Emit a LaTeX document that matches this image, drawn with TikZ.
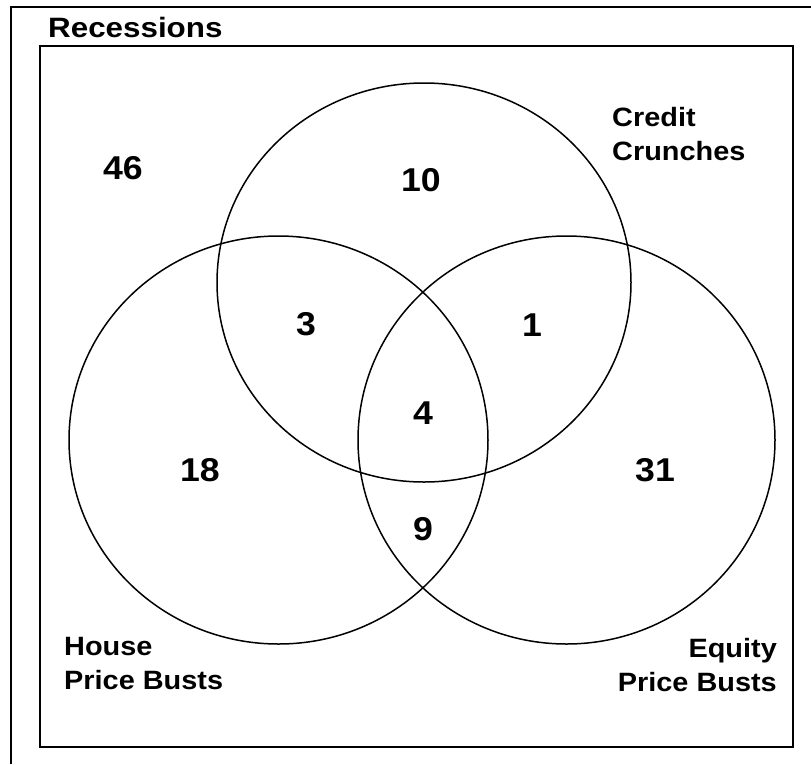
\documentclass[tikz,border=0pt]{standalone}
\usepackage{fontspec}
\setmainfont{Liberation Sans}
\newcommand{\widetxt}[1]{\scalebox{1.08}[1]{#1}}
\newcommand{\widelbl}[1]{\scalebox{1.09}[1]{#1}}
\begin{document}
\begin{tikzpicture}[x=1pt,y=-1pt,
  lbl/.style={font=\bfseries\fontsize{26.5}{34}\selectfont, inner sep=0pt},
  num/.style={font=\bfseries\fontsize{33}{38}\selectfont, inner sep=0pt},
  venn/.style={line width=1.5pt, draw=black}]
\useasboundingbox (0,0) rectangle (811,764);
\draw[line width=2pt] (11,764) -- (11,7) -- (811,7);
\draw[line width=2pt] (40,46) rectangle (793,747);
\node[inner sep=0pt, font=\bfseries\fontsize{28}{32}\selectfont, anchor=base west] (rec) at (48,37) {\scalebox{1.12}[1]{Recessions}};
\draw[venn] (424,282.5) ellipse [x radius=207, y radius=199.5];
\draw[venn] (278.5,440) ellipse [x radius=209.5, y radius=204];
\draw[venn] (566.5,440) ellipse [x radius=208.5, y radius=204];
\node[num] (n46) at (123,168) {\widetxt{46}};
\node[num] (n10) at (421,180) {\widetxt{10}};
\node[num] (n3) at (306,324) {\widetxt{3}};
\node[num] (n1) at (532,325) {\widetxt{1}};
\node[num] (n4) at (423,413) {\widetxt{4}};
\node[num] (n18) at (200,470) {\widetxt{18}};
\node[num] (n31) at (655,470) {\widetxt{31}};
\node[num] (n9) at (423,529) {\widetxt{9}};
\node[lbl, anchor=base west] (credit) at (612,126) {\widelbl{\begin{tabular}[t]{@{}l@{}}Credit\\Crunches\end{tabular}}};
\node[lbl, anchor=base west] (house) at (64,655) {\widelbl{\begin{tabular}[t]{@{}l@{}}House\\Price Busts\end{tabular}}};
\node[lbl, anchor=base east] (equity) at (777,657) {\widelbl{\begin{tabular}[t]{@{}r@{}}Equity\\Price Busts\end{tabular}}};
\end{tikzpicture}
\end{document}
